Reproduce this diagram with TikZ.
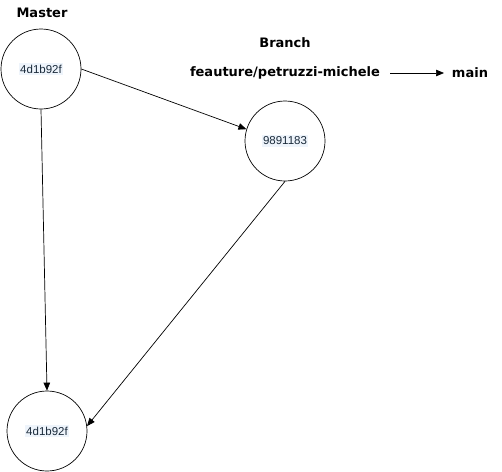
\documentclass[tikz,border=0pt]{standalone}
\usepackage{fontspec}
\setmainfont{Liberation Sans}
\newfontfamily\labelfont{DejaVu Sans}
\usetikzlibrary{arrows.meta}
\definecolor{hashbg}{HTML}{EEF4FB}
\definecolor{hashtxt}{HTML}{1A2A3A}
\tikzset{
  commit/.style={circle, draw=black, line width=0.7pt, minimum size=80pt, inner sep=0pt},
  lbl/.style={font=\labelfont\bfseries\fontsize{13}{15}\selectfont, inner sep=0pt},
  conn/.style={draw=black, line width=0.7pt, -{Triangle[length=8pt,width=6.5pt]}},
}
\newcommand{\hashtxt}[1]{{\setlength{\fboxsep}{1.5pt}\colorbox{hashbg}{\color{hashtxt}\fontsize{11.5}{13}\selectfont #1}}}
\begin{document}
\begin{tikzpicture}[x=1pt,y=-1pt]
\useasboundingbox (0,0) rectangle (502,471);
\node[lbl] (master) at (42,13) {Master};
\node[lbl] (branch) at (285,43) {Branch};
\node[lbl] (feat) at (285,73) {feauture/petruzzi-michele};
\node[lbl] (main) at (470,73) {main};
\coordinate (fa) at (390,73);
\coordinate (fb) at (444,73);
\draw[conn] (fa) -- (fb);
\node[commit] (c1) at (41,69) {\hashtxt{4d1b92f}};
\node[commit] (c2) at (285,141) {\hashtxt{9891183}};
\node[commit] (c3) at (47,431) {\hashtxt{4d1b92f}};
\draw[conn] (c1.east) -- (c2.163);
\draw[conn] (c1.south) -- (c3.north);
\draw[conn] (c2.south) -- (c3.7);
\end{tikzpicture}
\end{document}
